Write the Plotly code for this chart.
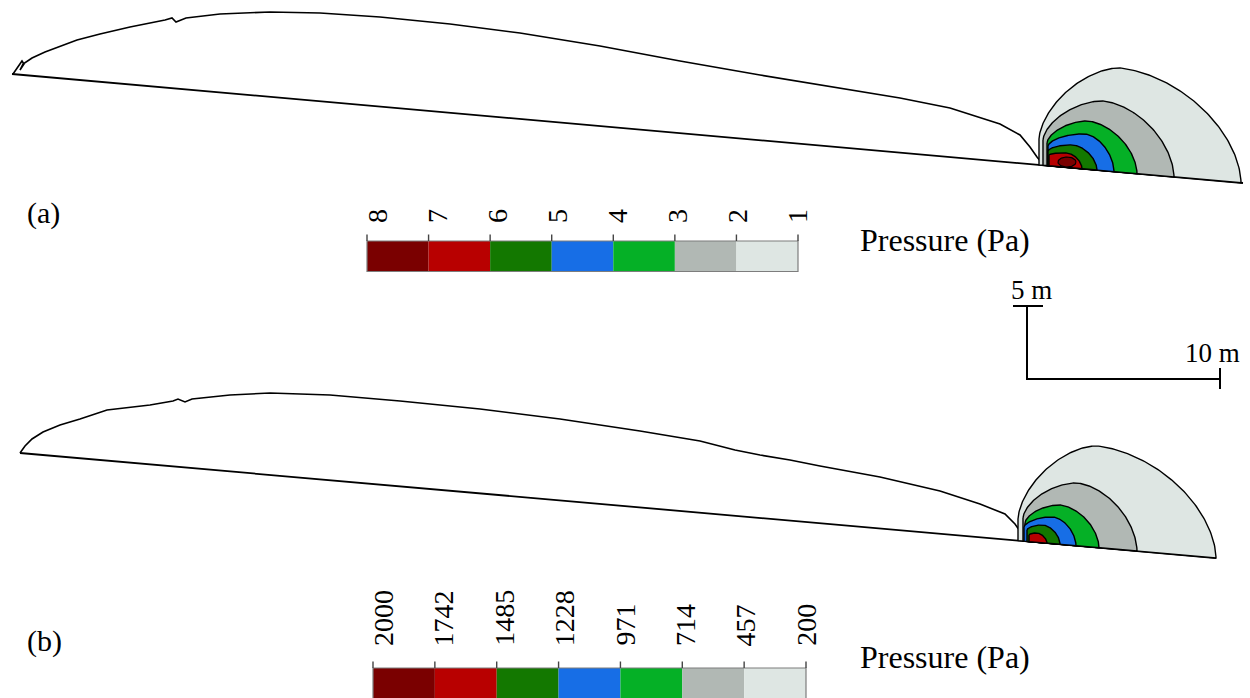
import numpy as np
import plotly.graph_objects as go

W, H = 1250, 698
FONT = "Liberation Serif, Times New Roman, serif"

# ---------------- data ----------------
# pressure level colours, highest level first
LEVEL_COLORS = ["#7a0000", "#b80000", "#137800", "#176ee6", "#05b026", "#b1b8b4", "#dee6e3"]
A_TICK_TEXT = ["8", "7", "6", "5", "4", "3", "2", "1"]
B_TICK_TEXT = ["2000", "1742", "1485", "1228", "971", "714", "457", "200"]

# sloping bed of each panel (two end points)
A_BED_X = [12, 1243]
A_BED_Y = [74, 183]
B_BED_X = [20, 1216]
B_BED_Y = [453, 558]

# free-surface profile of the deposit
A_PROF_X = [13, 18, 22, 24, 20, 23, 32, 45, 60, 77, 100, 130, 165, 172, 176, 186, 220, 270, 320, 380,
            450, 520, 600, 680, 760, 840, 900, 950, 1000, 1020, 1030, 1037, 1042]
A_PROF_Y = [74, 66, 61, 64, 70, 64, 58, 52, 46, 40, 34, 27, 20, 18, 22, 18, 14, 12, 13, 17,
            24, 33, 46, 61, 75, 88, 98, 108, 124, 135, 147, 157, 163]
B_PROF_X = [20, 25, 32, 43, 60, 80, 107, 150, 173, 178, 185, 192, 230, 270, 330, 400, 480, 560,
            640, 700, 735, 760, 790, 820, 880, 940, 980, 1005, 1015, 1022]
B_PROF_Y = [453, 446, 439, 432, 425, 419, 410, 405, 401, 399, 402, 399, 395, 393, 395, 401, 409, 419,
            431, 441, 450, 455, 460, 466, 477, 491, 504, 514, 524, 534]

# isobar domes, outermost first: left end (x, y), crest (x, y), foot on the bed (x)
A_LEFT_X = [1039, 1043, 1047, 1048, 1048, 1049]
A_LEFT_Y = [139, 140, 143, 146, 151, 155]
A_TOP_X = [1120, 1103, 1088, 1085, 1073, 1067]
A_TOP_Y = [68, 101, 121, 134, 145, 153]
A_FOOT_X = [1241, 1174, 1137, 1114, 1097, 1082]
A_CORE = [1067, 162, 9, 5]  # innermost level: centre x, centre y, half width, half height

B_LEFT_X = [1018, 1023, 1025, 1024, 1027, 1029]
B_LEFT_Y = [519, 518, 523, 527, 530, 535]
B_TOP_X = [1097, 1077, 1060, 1053, 1043, 1037]
B_TOP_Y = [446, 483, 505, 517, 525, 533]
B_FOOT_X = [1216, 1137, 1099, 1076, 1060, 1047]

# ---------------- layout constants ----------------
A_BAR = dict(x0=367, x1=798, y0=241, y1=271.5, lab_x0=377, lab_dx=60, lab_y=216, anchor="middle")
B_BAR = dict(x0=373, x1=806, y0=668, y1=702, lab_x0=383, lab_dx=60.4, lab_y=648, anchor="bottom")

fig = go.Figure()


def line(xs, ys, width=1.6, color="black"):
    fig.add_trace(go.Scatter(x=list(xs), y=list(ys), mode="lines", hoverinfo="skip",
                             line=dict(color=color, width=width), showlegend=False))


def bed_fn(bx, by):
    k = (by[1] - by[0]) / (bx[1] - bx[0])
    return lambda x: by[0] + (np.asarray(x, dtype=float) - bx[0]) * k


def dome(xl, yl, xt, yt, xf, yb, n_left=1.6, n_right=1.8, m=80):
    t = np.linspace(0, np.pi / 2, m)
    hl = float(yb(xl)) - yl
    ht = float(yb(xt)) - yt
    # rising flank: left end -> crest
    v = np.cos(t) ** (2 / n_left)
    w = np.sin(t) ** (2 / n_left)
    x1 = xt - (xt - xl) * v
    y1 = yb(x1) - (hl + (ht - hl) * w)
    # falling flank: crest -> foot on the bed
    u = np.sin(t) ** (2 / n_right)
    w2 = np.cos(t) ** (2 / n_right)
    x2 = xt + (xf - xt) * u
    y2 = yb(x2) - ht * w2
    xs = np.concatenate([x1, x2, [xl, xl]])
    ys = np.concatenate([y1, y2, [float(yb(xl)), yl]])
    return xs, ys


def panel(bed_x, bed_y, px, py, lx, ly, tx, ty, fx, core=None):
    yb = bed_fn(bed_x, bed_y)
    line(bed_x, bed_y, 1.8)
    line(px, py, 1.6)
    for i in range(len(lx)):
        xs, ys = dome(lx[i], ly[i], tx[i], ty[i], fx[i], yb)
        fig.add_trace(go.Scatter(x=xs, y=ys, mode="lines", fill="toself",
                                 fillcolor=LEVEL_COLORS[len(LEVEL_COLORS) - 1 - i],
                                 line=dict(color="black", width=1.4),
                                 hoverinfo="skip", showlegend=False))
    if core is not None:
        t = np.linspace(0, 2 * np.pi, 60)
        fig.add_trace(go.Scatter(x=core[0] + core[2] * np.cos(t), y=core[1] + core[3] * np.sin(t),
                                 mode="lines", fill="toself", fillcolor=LEVEL_COLORS[0],
                                 line=dict(color="black", width=1.2),
                                 hoverinfo="skip", showlegend=False))


def colorbar(bar, labels):
    n = len(labels)
    edges = np.linspace(bar["x0"], bar["x1"], n)
    for i in range(n - 1):
        fig.add_shape(type="rect", x0=edges[i], x1=edges[i + 1], y0=bar["y0"], y1=bar["y1"],
                      fillcolor=LEVEL_COLORS[i], line=dict(width=0), layer="above")
    fig.add_shape(type="rect", x0=bar["x0"], x1=bar["x1"], y0=bar["y0"], y1=bar["y1"],
                  line=dict(color="#7d7d7d", width=1.2), layer="above")
    for i, e in enumerate(edges):
        fig.add_shape(type="line", x0=e, x1=e, y0=bar["y0"] - 6.5, y1=bar["y0"],
                      line=dict(color="#444444", width=1.4), layer="above")
        fig.add_annotation(x=bar["lab_x0"] + i * bar["lab_dx"], y=bar["lab_y"], text=labels[i],
                           textangle=-90, showarrow=False, xanchor="center", yanchor=bar["anchor"],
                           font=dict(family=FONT, size=28, color="black"))


panel(A_BED_X, A_BED_Y, A_PROF_X, A_PROF_Y, A_LEFT_X, A_LEFT_Y, A_TOP_X, A_TOP_Y, A_FOOT_X, A_CORE)
panel(B_BED_X, B_BED_Y, B_PROF_X, B_PROF_Y, B_LEFT_X, B_LEFT_Y, B_TOP_X, B_TOP_Y, B_FOOT_X)

colorbar(A_BAR, A_TICK_TEXT)
colorbar(B_BAR, B_TICK_TEXT)

# scale bar
line([1013, 1043], [306, 306], 2)
line([1027, 1027, 1220], [306, 379, 379], 2)
line([1220, 1220], [368, 389], 2)


def label(x, y, text, size, anchor="center"):
    fig.add_annotation(x=x, y=y, text=text, showarrow=False, xanchor=anchor, yanchor="middle",
                       font=dict(family=FONT, size=size, color="black"))


label(1031, 290, "5 m", 27)
label(1212, 353, "10 m", 27)
label(43, 213, "(a)", 30)
label(44, 641, "(b)", 30)
label(858, 240, "Pressure (Pa)", 32, "left")
label(858, 657, "Pressure (Pa)", 32, "left")

fig.update_layout(
    width=W, height=H, margin=dict(l=0, r=0, t=0, b=0),
    paper_bgcolor="white", plot_bgcolor="white", showlegend=False,
    xaxis=dict(range=[0, W], visible=False, fixedrange=True),
    yaxis=dict(range=[H, 0], visible=False, fixedrange=True),
)

fig.write_html("out.html")
